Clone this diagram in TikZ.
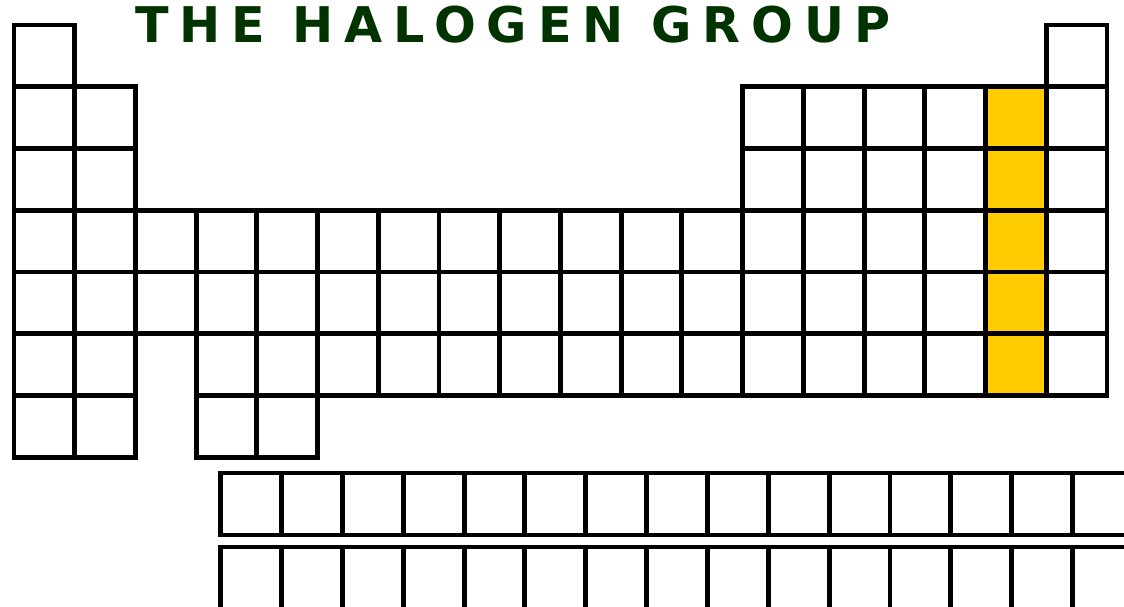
\documentclass[tikz,border=0pt]{standalone}
\usepackage{fontspec}
\newfontfamily\titlefont[LetterSpace=22]{DejaVu Sans}
\definecolor{halogen}{RGB}{255,204,0}
\definecolor{titlegreen}{RGB}{0,51,0}
\def\cw{60.72}
\def\ch{61.75}
\begin{document}
\begin{tikzpicture}[x=0.02cm, y=-0.02cm, cell/.style={draw=black, line width=0.098cm}, title/.style={text=titlegreen, font=\titlefont\bfseries\fontsize{28}{30}\selectfont, inner sep=0pt}]
	\useasboundingbox (0,0) rectangle (1124,607);
	\clip (0,0) rectangle (1124,607);
	\node[title, anchor=base] (heading) at (513,43) {THE HALOGEN GROUP};
	% main block, row by row
	\foreach \r/\cols in {1/{1,18}, 2/{1,2,13,14,15,16,17,18}, 3/{1,2,13,14,15,16,17,18}, 4/{1,...,18}, 5/{1,...,18}, 6/{1,2,4,5,6,7,8,9,10,11,12,13,14,15,16,17,18}, 7/{1,2,4,5}}
		\foreach \c in \cols {
			\ifnum\c=17 \ifnum\r>1 \fill[halogen] ({14+(\c-1)*\cw},{25+(\r-1)*\ch}) rectangle ++(\cw,\ch); \fi\fi
			\draw[cell] ({14+(\c-1)*\cw},{25+(\r-1)*\ch}) rectangle ++(\cw,\ch);
		}
	% lanthanide and actinide rows
	\foreach \y in {473,547}
		\foreach \c in {0,...,14}
			\draw[cell] ({220.7+\c*60.84},\y) rectangle ++(60.84,62);
\end{tikzpicture}
\end{document}
